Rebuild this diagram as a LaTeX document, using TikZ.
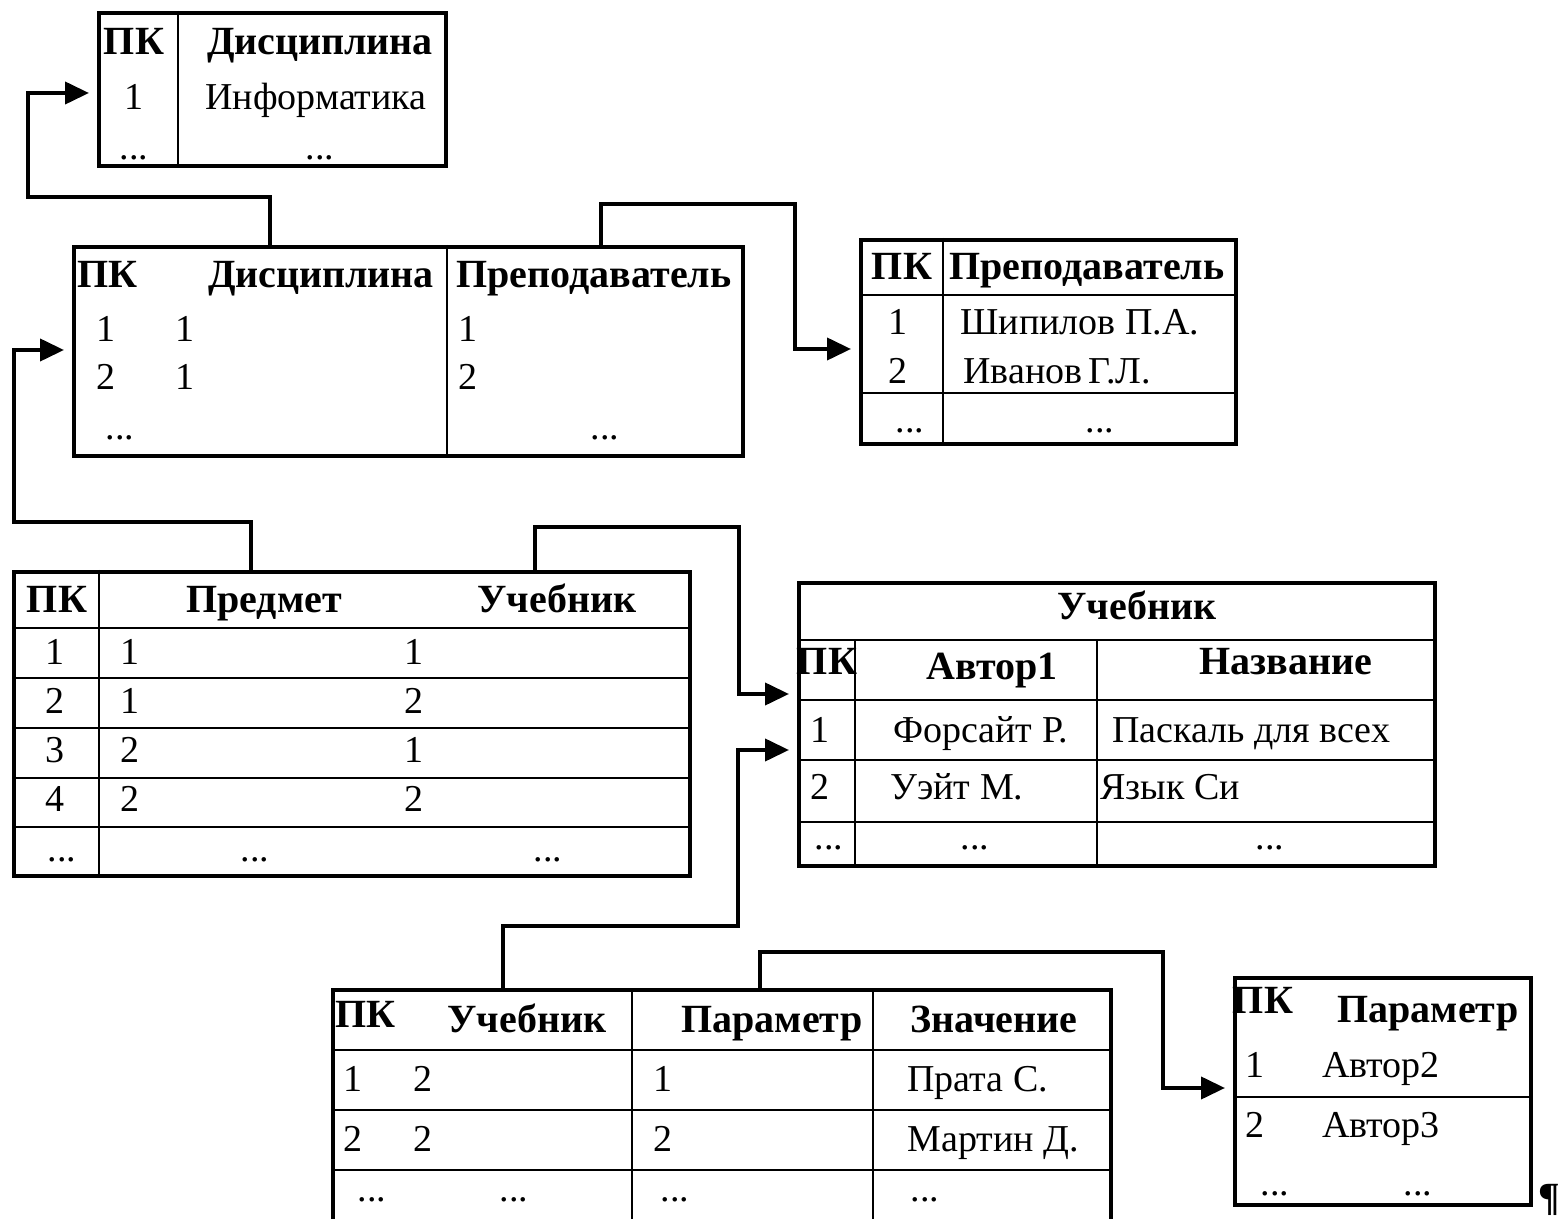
\documentclass[tikz,border=0pt]{standalone}
\usepackage{fontspec}
\setmainfont{Liberation Serif}
\usetikzlibrary{arrows.meta,fit}

\tikzset{
  tbl/.style={draw,line width=2pt,inner sep=0pt},
  rule/.style={line width=1pt},
  hd/.style={inner sep=0pt,text height=14pt,text depth=4pt,font=\bfseries\fontsize{20}{24}\selectfont},
  txt/.style={inner sep=0pt,text height=13.5pt,text depth=4pt,font=\fontsize{19}{23}\selectfont},
  link/.style={line width=2pt,-{Triangle[length=12pt,width=11pt]},shorten >=4pt}
}

\begin{document}
\begin{tikzpicture}[x=0.5pt,y=0.5pt,yscale=-1]
  \useasboundingbox (0,0) rectangle (1560,1219);

  % table: Дисциплина
  \node[tbl,fit={(99,13) (446,166)}] (disc) {};
  \draw[rule] (178,0 |- disc.north) -- (178,0 |- disc.south);
  \node[hd] (disc-h1) at (134,45) {ПК};
  \node[hd] (disc-h2) at (320,45) {Дисциплина};
  \node[txt] (disc-k1) at (134,100) {1};
  \node[txt] (disc-v1) at (316,100) {Информатика};
  \node[txt] (disc-k2) at (134,150) {...};
  \node[txt] (disc-v2) at (320,150) {...};

  % table: Дисциплина - Преподаватель
  \node[tbl,fit={(74,247) (743,456)}] (course) {};
  \draw[rule] (447,0 |- course.north) -- (447,0 |- course.south);
  \node[hd,anchor=west] (course-h1) at (77,278) {ПК};
  \node[hd] (course-h2) at (321,278) {Дисциплина};
  \node[hd] (course-h3) at (594,278) {Преподаватель};
  \foreach \y/\a/\b/\c [count=\i] in {332/1/1/1,380/2/1/2} {
    \node[txt] (course-k\i) at (106,\y) {\a};
    \node[txt] (course-d\i) at (185,\y) {\b};
    \node[txt] (course-p\i) at (468,\y) {\c};
  }
  \node[txt] (course-e1) at (120,430) {...};
  \node[txt] (course-e2) at (605,430) {...};

  % table: Преподаватель
  \node[tbl,fit={(861,240) (1236,444)}] (teacher) {};
  \draw[rule] (943,0 |- teacher.north) -- (943,0 |- teacher.south);
  \foreach \y in {295,393}
    \draw[rule] (teacher.west |- 0,\y) -- (teacher.east |- 0,\y);
  \node[hd] (teacher-h1) at (902,270) {ПК};
  \node[hd] (teacher-h2) at (1087,270) {Преподаватель};
  \node[txt] (teacher-k1) at (898,325) {1};
  \node[txt,anchor=west] (teacher-v1) at (960,325) {Шипилов П.А.};
  \node[txt] (teacher-k2) at (898,374) {2};
  \node[txt,anchor=west] (teacher-v2) at (963,374) {Иванов\,Г.Л.};
  \node[txt] (teacher-e1) at (910,423) {...};
  \node[txt] (teacher-e2) at (1100,423) {...};

  % table: Предмет - Учебник
  \node[tbl,fit={(14,572) (690,876)}] (subj) {};
  \draw[rule] (99,0 |- subj.north) -- (99,0 |- subj.south);
  \foreach \y in {628,678,728,778,827}
    \draw[rule] (subj.west |- 0,\y) -- (subj.east |- 0,\y);
  \node[hd] (subj-h1) at (57,603) {ПК};
  \node[hd] (subj-h2) at (264,603) {Предмет};
  \node[hd] (subj-h3) at (557,603) {Учебник};
  \foreach \y/\a/\b/\c [count=\i] in {655/1/1/1,704/2/1/2,753/3/2/1,802/4/2/2} {
    \node[txt] (subj-k\i) at (55,\y) {\a};
    \node[txt] (subj-s\i) at (130,\y) {\b};
    \node[txt] (subj-b\i) at (414,\y) {\c};
  }
  \node[txt] (subj-e1) at (62,852) {...};
  \node[txt] (subj-e2) at (255,852) {...};
  \node[txt] (subj-e3) at (548,852) {...};

  % table: Учебник
  \node[tbl,fit={(799,583) (1435,866)}] (book) {};
  \draw[rule] (book.west |- 0,640) -- (book.east |- 0,640);
  \foreach \x in {855,1097}
    \draw[rule] (\x,640) -- (\x,0 |- book.south);
  \foreach \y in {700,760,822}
    \draw[rule] (book.west |- 0,\y) -- (book.east |- 0,\y);
  \node[hd] (book-title) at (1137,610) {Учебник};
  \node[hd] (book-h1) at (827,665) {ПК};
  \node[hd] (book-h2) at (992,670) {Автор1};
  \node[hd] (book-h3) at (1286,665) {Название};
  \node[txt] (book-k1) at (820,733) {1};
  \node[txt,anchor=west] (book-a1) at (893,733) {Форсайт Р.};
  \node[txt,anchor=west] (book-n1) at (1112,733) {Паскаль для всех};
  \node[txt] (book-k2) at (820,790) {2};
  \node[txt,anchor=west] (book-a2) at (890,790) {Уэйт М.};
  \node[txt,anchor=west] (book-n2) at (1100,790) {Язык Си};
  \node[txt] (book-e1) at (829,840) {...};
  \node[txt] (book-e2) at (975,840) {...};
  \node[txt] (book-e3) at (1270,840) {...};

  % table: Учебник - Параметр - Значение
  \node[tbl,fit={(333,990) (1111,1226)}] (bpar) {};
  \foreach \x in {632,873}
    \draw[rule] (\x,0 |- bpar.north) -- (\x,0 |- bpar.south);
  \foreach \y in {1050,1110,1170}
    \draw[rule] (bpar.west |- 0,\y) -- (bpar.east |- 0,\y);
  \node[hd,anchor=west] (bpar-h1) at (335,1017) {ПК};
  \node[hd] (bpar-h2) at (527,1022) {Учебник};
  \node[hd] (bpar-h3) at (772,1022) {Параметр};
  \node[hd] (bpar-h4) at (994,1022) {Значение};
  \foreach \y/\a/\b/\c/\v [count=\i] in {1082/1/2/1/Прата С.,1142/2/2/2/Мартин Д.} {
    \node[txt] (bpar-k\i) at (353,\y) {\a};
    \node[txt] (bpar-b\i) at (423,\y) {\b};
    \node[txt] (bpar-p\i) at (663,\y) {\c};
    \node[txt,anchor=west] (bpar-v\i) at (907,\y) {\v};
  }
  \foreach \x [count=\i] in {372,514,675,925}
    \node[txt] (bpar-e\i) at (\x,1192) {...};

  % table: Параметр
  \node[tbl,fit={(1235,978) (1531,1205)}] (param) {};
  \draw[rule] (param.west |- 0,1097) -- (param.east |- 0,1097);
  \node[hd] (param-h1) at (1263,1003) {ПК};
  \node[hd] (param-h2) at (1428,1012) {Параметр};
  \node[txt] (param-k1) at (1255,1068) {1};
  \node[txt,anchor=west] (param-v1) at (1322,1068) {Автор2};
  \node[txt] (param-k2) at (1255,1128) {2};
  \node[txt,anchor=west] (param-v2) at (1322,1128) {Автор3};
  \node[txt] (param-e1) at (1275,1186) {...};
  \node[txt] (param-e2) at (1418,1186) {...};

  \node[hd,anchor=west] (pilcrow) at (1538,1200) {¶};

  % links
  \draw[link] (270,0 |- course.north) |- (28,197) |- (disc.west |- 0,93);
  \draw[link] (601,0 |- course.north) |- (795,204) |- (teacher.west |- 0,349);
  \draw[link] (251,0 |- subj.north) |- (14,522) |- (course.west |- 0,350);
  \draw[link] (535,0 |- subj.north) |- (739,527) |- (book.west |- 0,694);
  \draw[link] (503,0 |- bpar.north) |- (738,926) |- (book.west |- 0,750);
  \draw[link] (760,0 |- bpar.north) |- (1163,952) |- (param.west |- 0,1088);

\end{tikzpicture}
\end{document}
